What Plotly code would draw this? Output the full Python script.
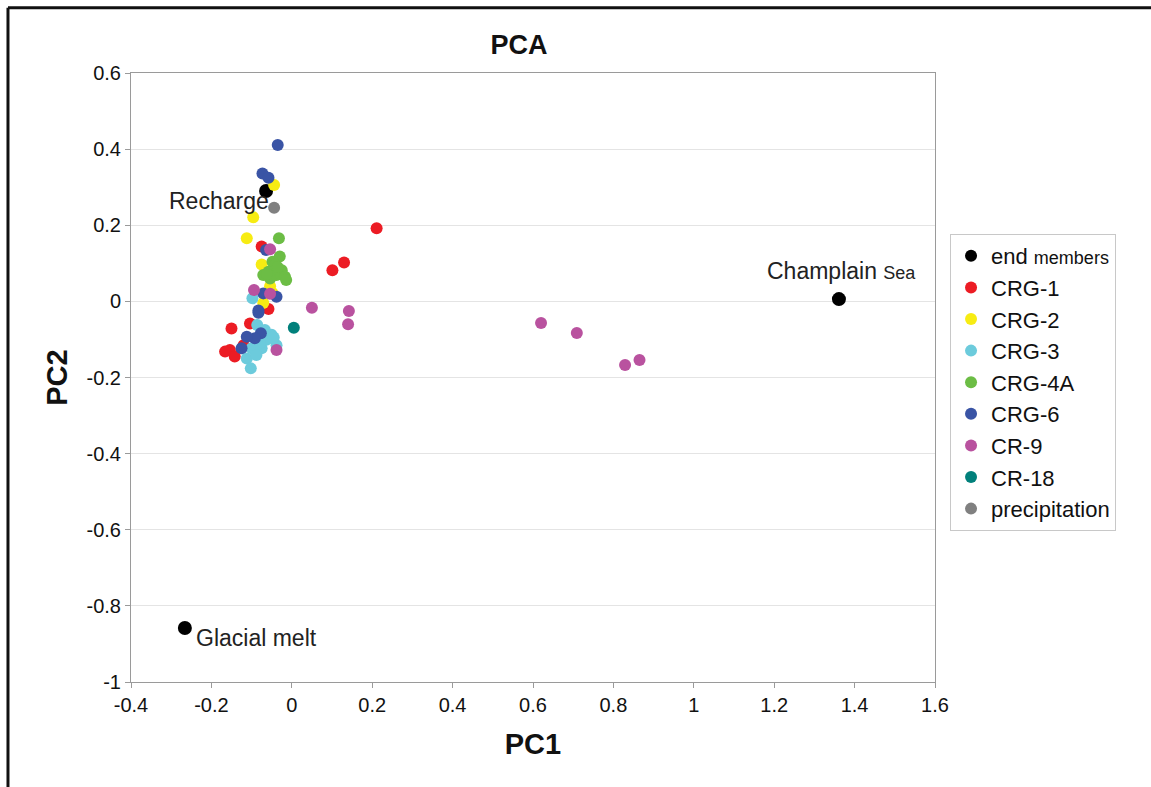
import plotly.graph_objects as go

# PCA scores per sample group (PC1, PC2)
end_members_pc1 = [-0.064, 1.361, -0.266]
end_members_pc2 = [0.290, 0.006, -0.858]

crg1_pc1 = [0.211, 0.130, 0.101, -0.075, -0.058, -0.104, -0.150, -0.154, -0.142, -0.166, -0.120]
crg1_pc2 = [0.192, 0.102, 0.082, 0.144, -0.020, -0.058, -0.071, -0.128, -0.145, -0.132, -0.115]

crg2_pc1 = [-0.044, -0.096, -0.112, -0.075, -0.054, -0.071, -0.048]
crg2_pc2 = [0.306, 0.221, 0.166, 0.097, 0.040, -0.004, 0.022]

crg3_pc1 = [-0.098, -0.086, -0.050, -0.063, -0.038, -0.100, -0.075, -0.112, -0.088, -0.102, -0.067, -0.080, -0.045]
crg3_pc2 = [0.008, -0.062, -0.088, -0.101, -0.115, -0.123, -0.123, -0.150, -0.141, -0.176, -0.075, -0.110, -0.095]

crg4a_pc1 = [-0.032, -0.030, -0.048, -0.025, -0.042, -0.058, -0.071, -0.038, -0.017, -0.054, -0.014, -0.062, -0.035]
crg4a_pc2 = [0.166, 0.118, 0.104, 0.082, 0.096, 0.078, 0.069, 0.069, 0.065, 0.060, 0.056, 0.072, 0.090]

crg6_pc1 = [-0.035, -0.073, -0.058, -0.064, -0.071, -0.038, -0.083, -0.077, -0.092, -0.112, -0.125, -0.083]
crg6_pc2 = [0.411, 0.336, 0.325, 0.135, 0.021, 0.012, -0.024, -0.084, -0.097, -0.093, -0.123, -0.030]

cr9_pc1 = [-0.054, -0.094, -0.054, 0.050, 0.142, 0.140, -0.038, 0.620, 0.709, 0.829, 0.865]
cr9_pc2 = [0.137, 0.030, 0.020, -0.017, -0.025, -0.060, -0.128, -0.057, -0.083, -0.167, -0.154]

cr18_pc1 = [0.005]
cr18_pc2 = [-0.069]

precip_pc1 = [-0.044]
precip_pc2 = [0.246]

x_ticks = [-0.4, -0.2, 0, 0.2, 0.4, 0.6, 0.8, 1, 1.2, 1.4, 1.6]
x_tick_text = ["-0.4", "-0.2", "0", "0.2", "0.4", "0.6", "0.8", "1", "1.2", "1.4", "1.6"]
y_ticks = [0.6, 0.4, 0.2, 0, -0.2, -0.4, -0.6, -0.8, -1]
y_tick_text = ["0.6", "0.4", "0.2", "0", "-0.2", "-0.4", "-0.6", "-0.8", "-1"]

FONT = "Liberation Sans, Arial, sans-serif"

groups = [
    ("CRG-1", crg1_pc1, crg1_pc2, "#ec1c24"),
    ("CRG-2", crg2_pc1, crg2_pc2, "#f7ec13"),
    ("CRG-3", crg3_pc1, crg3_pc2, "#6ccbdc"),
    ("CRG-4A", crg4a_pc1, crg4a_pc2, "#6cbd45"),
    ("CRG-6", crg6_pc1, crg6_pc2, "#3a54a5"),
    ("CR-9", cr9_pc1, cr9_pc2, "#b9529f"),
    ("CR-18", cr18_pc1, cr18_pc2, "#01807b"),
    ("precipitation", precip_pc1, precip_pc2, "#808080"),
]

fig = go.Figure()

fig.add_trace(go.Scatter(
    x=end_members_pc1, y=end_members_pc2, mode="markers",
    name="end <span style='font-size:18px'>members</span>",
    marker=dict(color="#000000", size=14),
))

for name, xs, ys, color in groups:
    fig.add_trace(go.Scatter(
        x=xs, y=ys, mode="markers", name=name,
        marker=dict(color=color, size=12),
    ))

# End-member labels
LABEL_FONT = dict(size=23, color="#222")
fig.add_annotation(x=end_members_pc1[0], y=end_members_pc2[0], text="Recharge",
                   showarrow=False, xanchor="right", yanchor="middle",
                   xshift=5, yshift=-10, font=LABEL_FONT)
fig.add_annotation(x=end_members_pc1[1], y=end_members_pc2[1],
                   text="Champlain <span style='font-size:18px'>Sea</span>",
                   showarrow=False, xanchor="center", yanchor="bottom",
                   xshift=3, yshift=13, font=LABEL_FONT)
fig.add_annotation(x=end_members_pc1[2], y=end_members_pc2[2], text="Glacial melt",
                   showarrow=False, xanchor="left", yanchor="middle",
                   xshift=9, yshift=-10, font=LABEL_FONT)

# Outer frame lines (top and left)
fig.add_shape(type="line", xref="paper", yref="paper",
              x0=-0.153, x1=1.3, y0=1.107, y1=1.107,
              line=dict(color="#111", width=3))
fig.add_shape(type="line", xref="paper", yref="paper",
              x0=-0.153, x1=-0.153, y0=1.107, y1=-0.2,
              line=dict(color="#111", width=3))

fig.update_layout(
    width=1151, height=787,
    margin=dict(l=131, r=216, t=73, b=105),
    paper_bgcolor="white", plot_bgcolor="white",
    font=dict(family=FONT, color="#111", size=20),
    title=dict(text="<b>PCA</b>", x=519 / 1151, xanchor="center",
               y=1 - 45 / 787, yanchor="middle", font=dict(size=27, color="#111")),
    showlegend=True,
    legend=dict(x=1.0187, y=0.7356, xanchor="left", yanchor="top",
                bordercolor="#c8c8c8", borderwidth=1, bgcolor="white",
                font=dict(size=22, color="#111"), itemsizing="constant",
                tracegroupgap=0, itemwidth=30),
    xaxis=dict(range=[-0.4, 1.6], tickvals=x_ticks, ticktext=x_tick_text,
               showgrid=False, zeroline=False, showline=True, linecolor="#9a9a9a",
               linewidth=1, mirror=True, ticks="outside", ticklen=5, tickcolor="#9a9a9a",
               title=dict(text="<b>PC1</b>", font=dict(size=29), standoff=18)),
    yaxis=dict(range=[-1, 0.6], tickvals=y_ticks, ticktext=y_tick_text,
               showgrid=True, gridcolor="#e4e4e4", gridwidth=1,
               zeroline=False, showline=True, linecolor="#9a9a9a",
               linewidth=1, mirror=True, ticks="outside", ticklen=5, tickcolor="#9a9a9a",
               title=dict(text="<b>PC2</b>", font=dict(size=29), standoff=10)),
)

fig.write_html("out.html")
